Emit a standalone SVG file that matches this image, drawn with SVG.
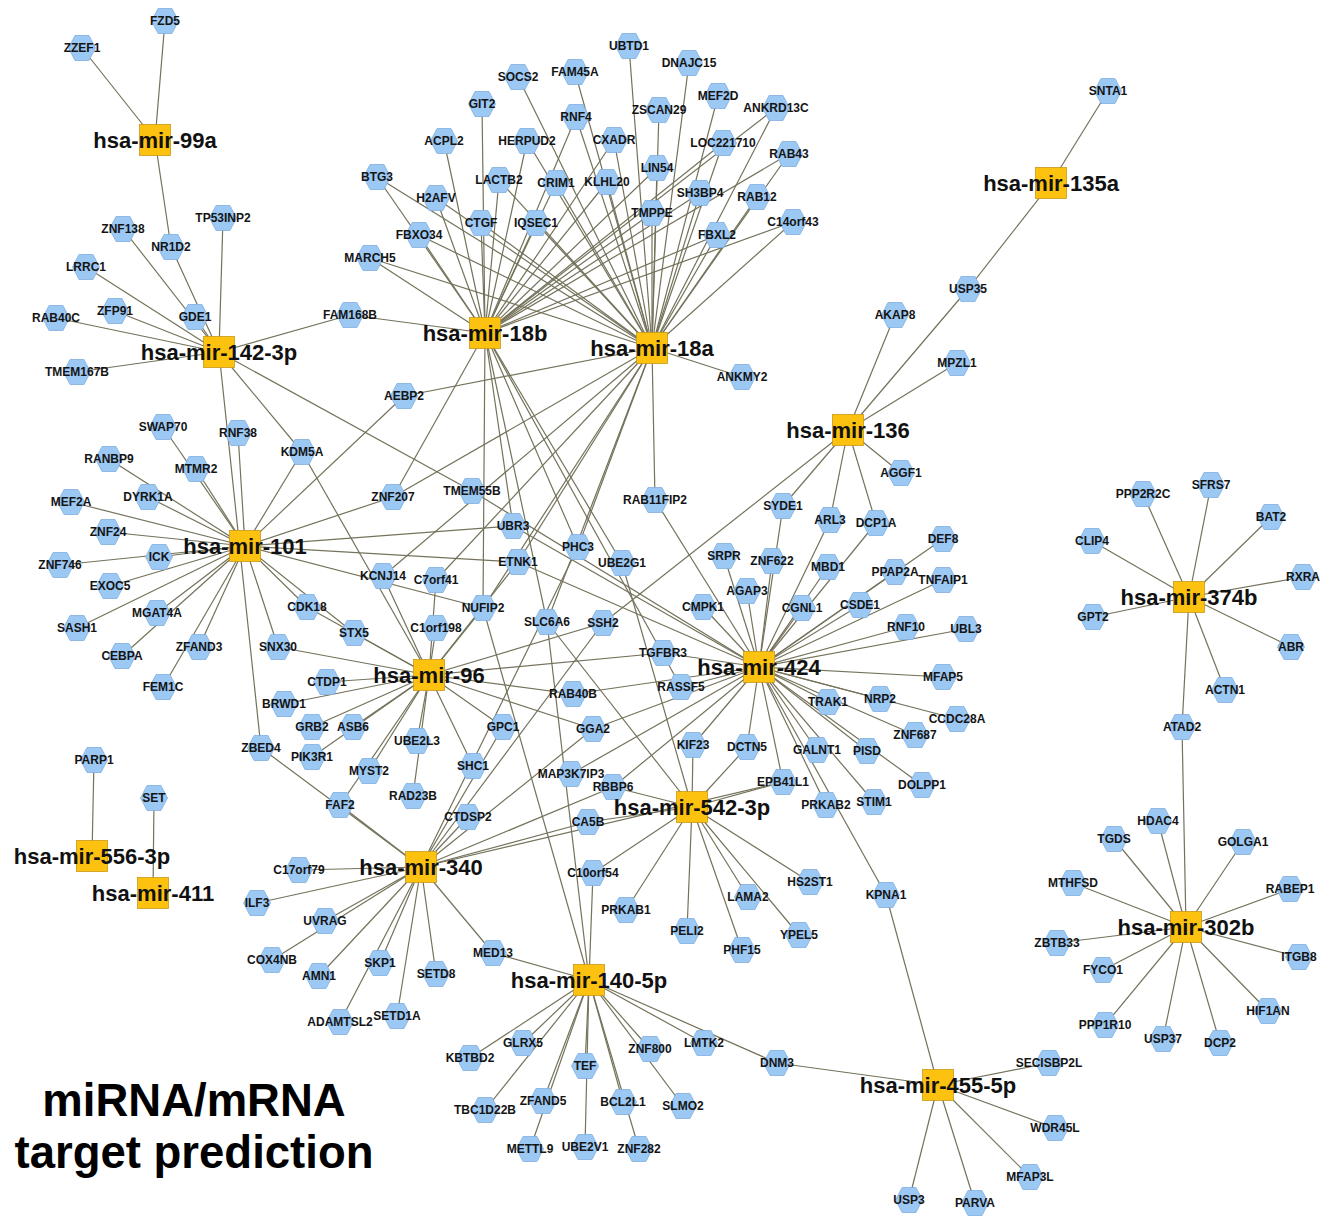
<svg xmlns="http://www.w3.org/2000/svg" xmlns:xlink="http://www.w3.org/1999/xlink" width="1326" height="1216" viewBox="0 0 1326 1216">
<style>
.e line{stroke:#74725a;stroke-width:1.2}
.g use{fill:#9cc8f4;stroke:#80afdf;stroke-width:0.8}
.g text{font:bold 12px "Liberation Sans",Arial,sans-serif;fill:#141414;text-anchor:middle}
.m rect{fill:#fdc10f;stroke:#c99a1a;stroke-width:0.8}
.m text{font:bold 22px "Liberation Sans",Arial,sans-serif;fill:#111;text-anchor:middle}
.t{font:bold 45.5px "Liberation Sans",Arial,sans-serif;fill:#000;text-anchor:middle}
</style>
<defs><polygon id="hex" points="-13.5,0 -7,-12.5 7,-12.5 13.5,0 7,12.5 -7,12.5"/></defs>
<rect width="1326" height="1216" fill="#fff"/>
<g id="connectors" class="e">
<line x1="155" y1="140" x2="82" y2="48"/><line x1="155" y1="140" x2="165" y2="21"/><line x1="155" y1="140" x2="171" y2="247"/>
<line x1="219" y1="352" x2="171" y2="247"/><line x1="219" y1="352" x2="223" y2="218"/><line x1="219" y1="352" x2="123" y2="229"/><line x1="219" y1="352" x2="86" y2="267"/><line x1="219" y1="352" x2="115" y2="311"/><line x1="219" y1="352" x2="195" y2="317"/><line x1="219" y1="352" x2="56" y2="318"/><line x1="219" y1="352" x2="77" y2="372"/><line x1="219" y1="352" x2="350" y2="315"/><line x1="219" y1="352" x2="261" y2="748"/><line x1="219" y1="352" x2="302" y2="452"/><line x1="219" y1="352" x2="472" y2="491"/>
<line x1="1051" y1="183" x2="1108" y2="91"/><line x1="1051" y1="183" x2="968" y2="289"/>
<line x1="848" y1="430" x2="968" y2="289"/><line x1="848" y1="430" x2="895" y2="315"/><line x1="848" y1="430" x2="957" y2="363"/><line x1="848" y1="430" x2="901" y2="473"/><line x1="848" y1="430" x2="783" y2="506"/><line x1="848" y1="430" x2="830" y2="520"/><line x1="848" y1="430" x2="876" y2="523"/><line x1="848" y1="430" x2="603" y2="623"/>
<line x1="485" y1="333" x2="482" y2="104"/><line x1="485" y1="333" x2="444" y2="141"/><line x1="485" y1="333" x2="377" y2="177"/><line x1="485" y1="333" x2="436" y2="198"/><line x1="485" y1="333" x2="419" y2="235"/><line x1="485" y1="333" x2="370" y2="258"/><line x1="485" y1="333" x2="481" y2="223"/><line x1="485" y1="333" x2="499" y2="180"/><line x1="485" y1="333" x2="536" y2="223"/><line x1="485" y1="333" x2="527" y2="141"/><line x1="485" y1="333" x2="556" y2="183"/><line x1="485" y1="333" x2="576" y2="117"/><line x1="485" y1="333" x2="614" y2="140"/><line x1="485" y1="333" x2="607" y2="182"/><line x1="485" y1="333" x2="657" y2="168"/><line x1="485" y1="333" x2="652" y2="213"/><line x1="485" y1="333" x2="776" y2="108"/><line x1="485" y1="333" x2="723" y2="143"/><line x1="485" y1="333" x2="789" y2="154"/><line x1="485" y1="333" x2="700" y2="193"/><line x1="485" y1="333" x2="793" y2="222"/><line x1="485" y1="333" x2="717" y2="235"/><line x1="485" y1="333" x2="350" y2="315"/><line x1="485" y1="333" x2="393" y2="497"/><line x1="485" y1="333" x2="483" y2="608"/><line x1="485" y1="333" x2="513" y2="526"/><line x1="485" y1="333" x2="547" y2="622"/><line x1="485" y1="333" x2="578" y2="547"/><line x1="485" y1="333" x2="622" y2="563"/><line x1="485" y1="333" x2="681" y2="687"/>
<line x1="652" y1="348" x2="629" y2="46"/><line x1="652" y1="348" x2="689" y2="63"/><line x1="652" y1="348" x2="518" y2="77"/><line x1="652" y1="348" x2="575" y2="72"/><line x1="652" y1="348" x2="718" y2="96"/><line x1="652" y1="348" x2="576" y2="117"/><line x1="652" y1="348" x2="659" y2="110"/><line x1="652" y1="348" x2="776" y2="108"/><line x1="652" y1="348" x2="527" y2="141"/><line x1="652" y1="348" x2="614" y2="140"/><line x1="652" y1="348" x2="723" y2="143"/><line x1="652" y1="348" x2="789" y2="154"/><line x1="652" y1="348" x2="377" y2="177"/><line x1="652" y1="348" x2="436" y2="198"/><line x1="652" y1="348" x2="499" y2="180"/><line x1="652" y1="348" x2="556" y2="183"/><line x1="652" y1="348" x2="607" y2="182"/><line x1="652" y1="348" x2="657" y2="168"/><line x1="652" y1="348" x2="700" y2="193"/><line x1="652" y1="348" x2="757" y2="197"/><line x1="652" y1="348" x2="481" y2="223"/><line x1="652" y1="348" x2="536" y2="223"/><line x1="652" y1="348" x2="652" y2="213"/><line x1="652" y1="348" x2="717" y2="235"/><line x1="652" y1="348" x2="793" y2="222"/><line x1="652" y1="348" x2="419" y2="235"/><line x1="652" y1="348" x2="370" y2="258"/><line x1="652" y1="348" x2="742" y2="377"/><line x1="652" y1="348" x2="404" y2="396"/><line x1="652" y1="348" x2="655" y2="500"/><line x1="652" y1="348" x2="393" y2="497"/><line x1="652" y1="348" x2="518" y2="562"/><line x1="652" y1="348" x2="578" y2="547"/><line x1="652" y1="348" x2="547" y2="622"/><line x1="652" y1="348" x2="483" y2="608"/><line x1="652" y1="348" x2="436" y2="580"/><line x1="652" y1="348" x2="383" y2="576"/>
<line x1="245" y1="546" x2="163" y2="427"/><line x1="245" y1="546" x2="196" y2="469"/><line x1="245" y1="546" x2="109" y2="459"/><line x1="245" y1="546" x2="148" y2="497"/><line x1="245" y1="546" x2="71" y2="502"/><line x1="245" y1="546" x2="108" y2="532"/><line x1="245" y1="546" x2="159" y2="557"/><line x1="245" y1="546" x2="60" y2="565"/><line x1="245" y1="546" x2="110" y2="586"/><line x1="245" y1="546" x2="77" y2="628"/><line x1="245" y1="546" x2="157" y2="613"/><line x1="245" y1="546" x2="122" y2="656"/><line x1="245" y1="546" x2="199" y2="647"/><line x1="245" y1="546" x2="163" y2="687"/><line x1="245" y1="546" x2="278" y2="647"/><line x1="245" y1="546" x2="307" y2="607"/><line x1="245" y1="546" x2="238" y2="433"/><line x1="245" y1="546" x2="302" y2="452"/><line x1="245" y1="546" x2="404" y2="396"/><line x1="245" y1="546" x2="393" y2="497"/><line x1="245" y1="546" x2="513" y2="526"/><line x1="245" y1="546" x2="518" y2="562"/><line x1="245" y1="546" x2="483" y2="608"/><line x1="245" y1="546" x2="354" y2="633"/>
<line x1="429" y1="675" x2="302" y2="452"/><line x1="429" y1="675" x2="354" y2="633"/><line x1="429" y1="675" x2="307" y2="607"/><line x1="429" y1="675" x2="278" y2="647"/><line x1="429" y1="675" x2="327" y2="682"/><line x1="429" y1="675" x2="284" y2="704"/><line x1="429" y1="675" x2="312" y2="727"/><line x1="429" y1="675" x2="353" y2="727"/><line x1="429" y1="675" x2="312" y2="757"/><line x1="429" y1="675" x2="369" y2="771"/><line x1="429" y1="675" x2="340" y2="805"/><line x1="429" y1="675" x2="417" y2="741"/><line x1="429" y1="675" x2="413" y2="796"/><line x1="429" y1="675" x2="473" y2="766"/><line x1="429" y1="675" x2="503" y2="727"/><line x1="429" y1="675" x2="593" y2="729"/><line x1="429" y1="675" x2="573" y2="694"/><line x1="429" y1="675" x2="603" y2="623"/><line x1="429" y1="675" x2="483" y2="608"/><line x1="429" y1="675" x2="436" y2="628"/><line x1="429" y1="675" x2="436" y2="580"/><line x1="429" y1="675" x2="383" y2="576"/><line x1="429" y1="675" x2="518" y2="562"/><line x1="429" y1="675" x2="663" y2="653"/>
<line x1="759" y1="667" x2="663" y2="653"/><line x1="759" y1="667" x2="681" y2="687"/><line x1="759" y1="667" x2="703" y2="607"/><line x1="759" y1="667" x2="724" y2="556"/><line x1="759" y1="667" x2="747" y2="591"/><line x1="759" y1="667" x2="772" y2="561"/><line x1="759" y1="667" x2="828" y2="567"/><line x1="759" y1="667" x2="802" y2="608"/><line x1="759" y1="667" x2="860" y2="605"/><line x1="759" y1="667" x2="895" y2="572"/><line x1="759" y1="667" x2="943" y2="539"/><line x1="759" y1="667" x2="943" y2="580"/><line x1="759" y1="667" x2="906" y2="627"/><line x1="759" y1="667" x2="966" y2="629"/><line x1="759" y1="667" x2="943" y2="677"/><line x1="759" y1="667" x2="880" y2="699"/><line x1="759" y1="667" x2="957" y2="719"/><line x1="759" y1="667" x2="828" y2="702"/><line x1="759" y1="667" x2="915" y2="735"/><line x1="759" y1="667" x2="867" y2="751"/><line x1="759" y1="667" x2="922" y2="785"/><line x1="759" y1="667" x2="817" y2="750"/><line x1="759" y1="667" x2="874" y2="802"/><line x1="759" y1="667" x2="826" y2="805"/><line x1="759" y1="667" x2="886" y2="895"/><line x1="759" y1="667" x2="783" y2="782"/><line x1="759" y1="667" x2="747" y2="747"/><line x1="759" y1="667" x2="693" y2="745"/><line x1="759" y1="667" x2="783" y2="506"/><line x1="759" y1="667" x2="830" y2="520"/><line x1="759" y1="667" x2="876" y2="523"/><line x1="759" y1="667" x2="655" y2="500"/><line x1="759" y1="667" x2="472" y2="491"/><line x1="759" y1="667" x2="513" y2="526"/><line x1="759" y1="667" x2="518" y2="562"/><line x1="759" y1="667" x2="573" y2="694"/><line x1="759" y1="667" x2="593" y2="729"/><line x1="759" y1="667" x2="571" y2="774"/><line x1="759" y1="667" x2="613" y2="787"/>
<line x1="692" y1="807" x2="687" y2="931"/><line x1="692" y1="807" x2="742" y2="950"/><line x1="692" y1="807" x2="748" y2="897"/><line x1="692" y1="807" x2="799" y2="935"/><line x1="692" y1="807" x2="810" y2="882"/><line x1="692" y1="807" x2="783" y2="782"/><line x1="692" y1="807" x2="747" y2="747"/><line x1="692" y1="807" x2="693" y2="745"/><line x1="692" y1="807" x2="626" y2="910"/><line x1="692" y1="807" x2="593" y2="873"/><line x1="692" y1="807" x2="613" y2="787"/><line x1="692" y1="807" x2="622" y2="563"/><line x1="692" y1="807" x2="547" y2="622"/><line x1="692" y1="807" x2="588" y2="822"/>
<line x1="421" y1="867" x2="468" y2="817"/><line x1="421" y1="867" x2="340" y2="805"/><line x1="421" y1="867" x2="261" y2="748"/><line x1="421" y1="867" x2="299" y2="870"/><line x1="421" y1="867" x2="257" y2="903"/><line x1="421" y1="867" x2="325" y2="921"/><line x1="421" y1="867" x2="272" y2="960"/><line x1="421" y1="867" x2="319" y2="976"/><line x1="421" y1="867" x2="380" y2="963"/><line x1="421" y1="867" x2="340" y2="1022"/><line x1="421" y1="867" x2="397" y2="1016"/><line x1="421" y1="867" x2="436" y2="974"/><line x1="421" y1="867" x2="493" y2="953"/><line x1="421" y1="867" x2="603" y2="623"/><line x1="421" y1="867" x2="588" y2="822"/><line x1="421" y1="867" x2="613" y2="787"/><line x1="421" y1="867" x2="593" y2="729"/><line x1="421" y1="867" x2="783" y2="782"/><line x1="421" y1="867" x2="578" y2="547"/><line x1="421" y1="867" x2="503" y2="727"/>
<line x1="589" y1="980" x2="493" y2="953"/><line x1="589" y1="980" x2="593" y2="873"/><line x1="589" y1="980" x2="483" y2="608"/><line x1="589" y1="980" x2="547" y2="622"/><line x1="589" y1="980" x2="470" y2="1058"/><line x1="589" y1="980" x2="523" y2="1043"/><line x1="589" y1="980" x2="485" y2="1110"/><line x1="589" y1="980" x2="585" y2="1066"/><line x1="589" y1="980" x2="543" y2="1101"/><line x1="589" y1="980" x2="530" y2="1149"/><line x1="589" y1="980" x2="585" y2="1147"/><line x1="589" y1="980" x2="623" y2="1102"/><line x1="589" y1="980" x2="639" y2="1149"/><line x1="589" y1="980" x2="650" y2="1049"/><line x1="589" y1="980" x2="683" y2="1106"/><line x1="589" y1="980" x2="704" y2="1043"/><line x1="589" y1="980" x2="777" y2="1063"/>
<line x1="938" y1="1085" x2="886" y2="895"/><line x1="938" y1="1085" x2="777" y2="1063"/><line x1="938" y1="1085" x2="1049" y2="1063"/><line x1="938" y1="1085" x2="1055" y2="1128"/><line x1="938" y1="1085" x2="1030" y2="1177"/><line x1="938" y1="1085" x2="909" y2="1200"/><line x1="938" y1="1085" x2="975" y2="1203"/>
<line x1="1189" y1="597" x2="1211" y2="485"/><line x1="1189" y1="597" x2="1143" y2="494"/><line x1="1189" y1="597" x2="1271" y2="517"/><line x1="1189" y1="597" x2="1092" y2="541"/><line x1="1189" y1="597" x2="1303" y2="577"/><line x1="1189" y1="597" x2="1093" y2="617"/><line x1="1189" y1="597" x2="1291" y2="647"/><line x1="1189" y1="597" x2="1225" y2="690"/><line x1="1189" y1="597" x2="1182" y2="727"/>
<line x1="1186" y1="927" x2="1182" y2="727"/><line x1="1186" y1="927" x2="1158" y2="821"/><line x1="1186" y1="927" x2="1114" y2="839"/><line x1="1186" y1="927" x2="1243" y2="842"/><line x1="1186" y1="927" x2="1073" y2="883"/><line x1="1186" y1="927" x2="1290" y2="889"/><line x1="1186" y1="927" x2="1057" y2="943"/><line x1="1186" y1="927" x2="1299" y2="957"/><line x1="1186" y1="927" x2="1103" y2="970"/><line x1="1186" y1="927" x2="1268" y2="1011"/><line x1="1186" y1="927" x2="1105" y2="1025"/><line x1="1186" y1="927" x2="1163" y2="1039"/><line x1="1186" y1="927" x2="1220" y2="1043"/>
<line x1="92" y1="856" x2="94" y2="760"/><line x1="153" y1="893" x2="154" y2="798"/>
</g>
<g id="genes" class="g">
<g id="n_FZD5" transform="translate(165,21)"><use href="#hex"/><text y="4">FZD5</text></g>
<g id="n_ZZEF1" transform="translate(82,48)"><use href="#hex"/><text y="4">ZZEF1</text></g>
<g id="n_TP53INP2" transform="translate(223,218)"><use href="#hex"/><text y="4">TP53INP2</text></g>
<g id="n_ZNF138" transform="translate(123,229)"><use href="#hex"/><text y="4">ZNF138</text></g>
<g id="n_NR1D2" transform="translate(171,247)"><use href="#hex"/><text y="4">NR1D2</text></g>
<g id="n_LRRC1" transform="translate(86,267)"><use href="#hex"/><text y="4">LRRC1</text></g>
<g id="n_ZFP91" transform="translate(115,311)"><use href="#hex"/><text y="4">ZFP91</text></g>
<g id="n_GDE1" transform="translate(195,317)"><use href="#hex"/><text y="4">GDE1</text></g>
<g id="n_RAB40C" transform="translate(56,318)"><use href="#hex"/><text y="4">RAB40C</text></g>
<g id="n_TMEM167B" transform="translate(77,372)"><use href="#hex"/><text y="4">TMEM167B</text></g>
<g id="n_FAM168B" transform="translate(350,315)"><use href="#hex"/><text y="4">FAM168B</text></g>
<g id="n_UBTD1" transform="translate(629,46)"><use href="#hex"/><text y="4">UBTD1</text></g>
<g id="n_SOCS2" transform="translate(518,77)"><use href="#hex"/><text y="4">SOCS2</text></g>
<g id="n_FAM45A" transform="translate(575,72)"><use href="#hex"/><text y="4">FAM45A</text></g>
<g id="n_DNAJC15" transform="translate(689,63)"><use href="#hex"/><text y="4">DNAJC15</text></g>
<g id="n_GIT2" transform="translate(482,104)"><use href="#hex"/><text y="4">GIT2</text></g>
<g id="n_RNF4" transform="translate(576,117)"><use href="#hex"/><text y="4">RNF4</text></g>
<g id="n_ZSCAN29" transform="translate(659,110)"><use href="#hex"/><text y="4">ZSCAN29</text></g>
<g id="n_MEF2D" transform="translate(718,96)"><use href="#hex"/><text y="4">MEF2D</text></g>
<g id="n_ANKRD13C" transform="translate(776,108)"><use href="#hex"/><text y="4">ANKRD13C</text></g>
<g id="n_ACPL2" transform="translate(444,141)"><use href="#hex"/><text y="4">ACPL2</text></g>
<g id="n_HERPUD2" transform="translate(527,141)"><use href="#hex"/><text y="4">HERPUD2</text></g>
<g id="n_CXADR" transform="translate(614,140)"><use href="#hex"/><text y="4">CXADR</text></g>
<g id="n_LOC221710" transform="translate(723,143)"><use href="#hex"/><text y="4">LOC221710</text></g>
<g id="n_RAB43" transform="translate(789,154)"><use href="#hex"/><text y="4">RAB43</text></g>
<g id="n_BTG3" transform="translate(377,177)"><use href="#hex"/><text y="4">BTG3</text></g>
<g id="n_LACTB2" transform="translate(499,180)"><use href="#hex"/><text y="4">LACTB2</text></g>
<g id="n_CRIM1" transform="translate(556,183)"><use href="#hex"/><text y="4">CRIM1</text></g>
<g id="n_KLHL20" transform="translate(607,182)"><use href="#hex"/><text y="4">KLHL20</text></g>
<g id="n_LIN54" transform="translate(657,168)"><use href="#hex"/><text y="4">LIN54</text></g>
<g id="n_SH3BP4" transform="translate(700,193)"><use href="#hex"/><text y="4">SH3BP4</text></g>
<g id="n_RAB12" transform="translate(757,197)"><use href="#hex"/><text y="4">RAB12</text></g>
<g id="n_H2AFV" transform="translate(436,198)"><use href="#hex"/><text y="4">H2AFV</text></g>
<g id="n_CTGF" transform="translate(481,223)"><use href="#hex"/><text y="4">CTGF</text></g>
<g id="n_IQSEC1" transform="translate(536,223)"><use href="#hex"/><text y="4">IQSEC1</text></g>
<g id="n_TMPPE" transform="translate(652,213)"><use href="#hex"/><text y="4">TMPPE</text></g>
<g id="n_FBXL2" transform="translate(717,235)"><use href="#hex"/><text y="4">FBXL2</text></g>
<g id="n_C14orf43" transform="translate(793,222)"><use href="#hex"/><text y="4">C14orf43</text></g>
<g id="n_FBXO34" transform="translate(419,235)"><use href="#hex"/><text y="4">FBXO34</text></g>
<g id="n_MARCH5" transform="translate(370,258)"><use href="#hex"/><text y="4">MARCH5</text></g>
<g id="n_AEBP2" transform="translate(404,396)"><use href="#hex"/><text y="4">AEBP2</text></g>
<g id="n_ANKMY2" transform="translate(742,377)"><use href="#hex"/><text y="4">ANKMY2</text></g>
<g id="n_SNTA1" transform="translate(1108,91)"><use href="#hex"/><text y="4">SNTA1</text></g>
<g id="n_USP35" transform="translate(968,289)"><use href="#hex"/><text y="4">USP35</text></g>
<g id="n_AKAP8" transform="translate(895,315)"><use href="#hex"/><text y="4">AKAP8</text></g>
<g id="n_MPZL1" transform="translate(957,363)"><use href="#hex"/><text y="4">MPZL1</text></g>
<g id="n_SWAP70" transform="translate(163,427)"><use href="#hex"/><text y="4">SWAP70</text></g>
<g id="n_RNF38" transform="translate(238,433)"><use href="#hex"/><text y="4">RNF38</text></g>
<g id="n_KDM5A" transform="translate(302,452)"><use href="#hex"/><text y="4">KDM5A</text></g>
<g id="n_RANBP9" transform="translate(109,459)"><use href="#hex"/><text y="4">RANBP9</text></g>
<g id="n_MTMR2" transform="translate(196,469)"><use href="#hex"/><text y="4">MTMR2</text></g>
<g id="n_DYRK1A" transform="translate(148,497)"><use href="#hex"/><text y="4">DYRK1A</text></g>
<g id="n_MEF2A" transform="translate(71,502)"><use href="#hex"/><text y="4">MEF2A</text></g>
<g id="n_ZNF24" transform="translate(108,532)"><use href="#hex"/><text y="4">ZNF24</text></g>
<g id="n_ICK" transform="translate(159,557)"><use href="#hex"/><text y="4">ICK</text></g>
<g id="n_ZNF746" transform="translate(60,565)"><use href="#hex"/><text y="4">ZNF746</text></g>
<g id="n_EXOC5" transform="translate(110,586)"><use href="#hex"/><text y="4">EXOC5</text></g>
<g id="n_CDK18" transform="translate(307,607)"><use href="#hex"/><text y="4">CDK18</text></g>
<g id="n_MGAT4A" transform="translate(157,613)"><use href="#hex"/><text y="4">MGAT4A</text></g>
<g id="n_SASH1" transform="translate(77,628)"><use href="#hex"/><text y="4">SASH1</text></g>
<g id="n_SNX30" transform="translate(278,647)"><use href="#hex"/><text y="4">SNX30</text></g>
<g id="n_ZFAND3" transform="translate(199,647)"><use href="#hex"/><text y="4">ZFAND3</text></g>
<g id="n_CEBPA" transform="translate(122,656)"><use href="#hex"/><text y="4">CEBPA</text></g>
<g id="n_CTDP1" transform="translate(327,682)"><use href="#hex"/><text y="4">CTDP1</text></g>
<g id="n_FEM1C" transform="translate(163,687)"><use href="#hex"/><text y="4">FEM1C</text></g>
<g id="n_BRWD1" transform="translate(284,704)"><use href="#hex"/><text y="4">BRWD1</text></g>
<g id="n_GRB2" transform="translate(312,727)"><use href="#hex"/><text y="4">GRB2</text></g>
<g id="n_ZBED4" transform="translate(261,748)"><use href="#hex"/><text y="4">ZBED4</text></g>
<g id="n_PIK3R1" transform="translate(312,757)"><use href="#hex"/><text y="4">PIK3R1</text></g>
<g id="n_PARP1" transform="translate(94,760)"><use href="#hex"/><text y="4">PARP1</text></g>
<g id="n_SET" transform="translate(154,798)"><use href="#hex"/><text y="4">SET</text></g>
<g id="n_FAF2" transform="translate(340,805)"><use href="#hex"/><text y="4">FAF2</text></g>
<g id="n_ZNF207" transform="translate(393,497)"><use href="#hex"/><text y="4">ZNF207</text></g>
<g id="n_TMEM55B" transform="translate(472,491)"><use href="#hex"/><text y="4">TMEM55B</text></g>
<g id="n_RAB11FIP2" transform="translate(655,500)"><use href="#hex"/><text y="4">RAB11FIP2</text></g>
<g id="n_UBR3" transform="translate(513,526)"><use href="#hex"/><text y="4">UBR3</text></g>
<g id="n_PHC3" transform="translate(578,547)"><use href="#hex"/><text y="4">PHC3</text></g>
<g id="n_ETNK1" transform="translate(518,562)"><use href="#hex"/><text y="4">ETNK1</text></g>
<g id="n_UBE2G1" transform="translate(622,563)"><use href="#hex"/><text y="4">UBE2G1</text></g>
<g id="n_KCNJ14" transform="translate(383,576)"><use href="#hex"/><text y="4">KCNJ14</text></g>
<g id="n_C7orf41" transform="translate(436,580)"><use href="#hex"/><text y="4">C7orf41</text></g>
<g id="n_NUFIP2" transform="translate(483,608)"><use href="#hex"/><text y="4">NUFIP2</text></g>
<g id="n_SLC6A6" transform="translate(547,622)"><use href="#hex"/><text y="4">SLC6A6</text></g>
<g id="n_SSH2" transform="translate(603,623)"><use href="#hex"/><text y="4">SSH2</text></g>
<g id="n_C1orf198" transform="translate(436,628)"><use href="#hex"/><text y="4">C1orf198</text></g>
<g id="n_STX5" transform="translate(354,633)"><use href="#hex"/><text y="4">STX5</text></g>
<g id="n_TGFBR3" transform="translate(663,653)"><use href="#hex"/><text y="4">TGFBR3</text></g>
<g id="n_RAB40B" transform="translate(573,694)"><use href="#hex"/><text y="4">RAB40B</text></g>
<g id="n_RASSF5" transform="translate(681,687)"><use href="#hex"/><text y="4">RASSF5</text></g>
<g id="n_ASB6" transform="translate(353,727)"><use href="#hex"/><text y="4">ASB6</text></g>
<g id="n_GPC1" transform="translate(503,727)"><use href="#hex"/><text y="4">GPC1</text></g>
<g id="n_GGA2" transform="translate(593,729)"><use href="#hex"/><text y="4">GGA2</text></g>
<g id="n_UBE2L3" transform="translate(417,741)"><use href="#hex"/><text y="4">UBE2L3</text></g>
<g id="n_SHC1" transform="translate(473,766)"><use href="#hex"/><text y="4">SHC1</text></g>
<g id="n_MYST2" transform="translate(369,771)"><use href="#hex"/><text y="4">MYST2</text></g>
<g id="n_MAP3K7IP3" transform="translate(571,774)"><use href="#hex"/><text y="4">MAP3K7IP3</text></g>
<g id="n_RBBP6" transform="translate(613,787)"><use href="#hex"/><text y="4">RBBP6</text></g>
<g id="n_RAD23B" transform="translate(413,796)"><use href="#hex"/><text y="4">RAD23B</text></g>
<g id="n_AGGF1" transform="translate(901,473)"><use href="#hex"/><text y="4">AGGF1</text></g>
<g id="n_SYDE1" transform="translate(783,506)"><use href="#hex"/><text y="4">SYDE1</text></g>
<g id="n_ARL3" transform="translate(830,520)"><use href="#hex"/><text y="4">ARL3</text></g>
<g id="n_DCP1A" transform="translate(876,523)"><use href="#hex"/><text y="4">DCP1A</text></g>
<g id="n_DEF8" transform="translate(943,539)"><use href="#hex"/><text y="4">DEF8</text></g>
<g id="n_SRPR" transform="translate(724,556)"><use href="#hex"/><text y="4">SRPR</text></g>
<g id="n_ZNF622" transform="translate(772,561)"><use href="#hex"/><text y="4">ZNF622</text></g>
<g id="n_MBD1" transform="translate(828,567)"><use href="#hex"/><text y="4">MBD1</text></g>
<g id="n_PPAP2A" transform="translate(895,572)"><use href="#hex"/><text y="4">PPAP2A</text></g>
<g id="n_TNFAIP1" transform="translate(943,580)"><use href="#hex"/><text y="4">TNFAIP1</text></g>
<g id="n_AGAP3" transform="translate(747,591)"><use href="#hex"/><text y="4">AGAP3</text></g>
<g id="n_CMPK1" transform="translate(703,607)"><use href="#hex"/><text y="4">CMPK1</text></g>
<g id="n_CGNL1" transform="translate(802,608)"><use href="#hex"/><text y="4">CGNL1</text></g>
<g id="n_CSDE1" transform="translate(860,605)"><use href="#hex"/><text y="4">CSDE1</text></g>
<g id="n_RNF10" transform="translate(906,627)"><use href="#hex"/><text y="4">RNF10</text></g>
<g id="n_UBL3" transform="translate(966,629)"><use href="#hex"/><text y="4">UBL3</text></g>
<g id="n_MFAP5" transform="translate(943,677)"><use href="#hex"/><text y="4">MFAP5</text></g>
<g id="n_TRAK1" transform="translate(828,702)"><use href="#hex"/><text y="4">TRAK1</text></g>
<g id="n_NRP2" transform="translate(880,699)"><use href="#hex"/><text y="4">NRP2</text></g>
<g id="n_CCDC28A" transform="translate(957,719)"><use href="#hex"/><text y="4">CCDC28A</text></g>
<g id="n_ZNF687" transform="translate(915,735)"><use href="#hex"/><text y="4">ZNF687</text></g>
<g id="n_KIF23" transform="translate(693,745)"><use href="#hex"/><text y="4">KIF23</text></g>
<g id="n_DCTN5" transform="translate(747,747)"><use href="#hex"/><text y="4">DCTN5</text></g>
<g id="n_GALNT1" transform="translate(817,750)"><use href="#hex"/><text y="4">GALNT1</text></g>
<g id="n_PISD" transform="translate(867,751)"><use href="#hex"/><text y="4">PISD</text></g>
<g id="n_EPB41L1" transform="translate(783,782)"><use href="#hex"/><text y="4">EPB41L1</text></g>
<g id="n_DOLPP1" transform="translate(922,785)"><use href="#hex"/><text y="4">DOLPP1</text></g>
<g id="n_PRKAB2" transform="translate(826,805)"><use href="#hex"/><text y="4">PRKAB2</text></g>
<g id="n_STIM1" transform="translate(874,802)"><use href="#hex"/><text y="4">STIM1</text></g>
<g id="n_SFRS7" transform="translate(1211,485)"><use href="#hex"/><text y="4">SFRS7</text></g>
<g id="n_PPP2R2C" transform="translate(1143,494)"><use href="#hex"/><text y="4">PPP2R2C</text></g>
<g id="n_BAT2" transform="translate(1271,517)"><use href="#hex"/><text y="4">BAT2</text></g>
<g id="n_CLIP4" transform="translate(1092,541)"><use href="#hex"/><text y="4">CLIP4</text></g>
<g id="n_RXRA" transform="translate(1303,577)"><use href="#hex"/><text y="4">RXRA</text></g>
<g id="n_GPT2" transform="translate(1093,617)"><use href="#hex"/><text y="4">GPT2</text></g>
<g id="n_ABR" transform="translate(1291,647)"><use href="#hex"/><text y="4">ABR</text></g>
<g id="n_ACTN1" transform="translate(1225,690)"><use href="#hex"/><text y="4">ACTN1</text></g>
<g id="n_ATAD2" transform="translate(1182,727)"><use href="#hex"/><text y="4">ATAD2</text></g>
<g id="n_C17orf79" transform="translate(299,870)"><use href="#hex"/><text y="4">C17orf79</text></g>
<g id="n_ILF3" transform="translate(257,903)"><use href="#hex"/><text y="4">ILF3</text></g>
<g id="n_UVRAG" transform="translate(325,921)"><use href="#hex"/><text y="4">UVRAG</text></g>
<g id="n_COX4NB" transform="translate(272,960)"><use href="#hex"/><text y="4">COX4NB</text></g>
<g id="n_AMN1" transform="translate(319,976)"><use href="#hex"/><text y="4">AMN1</text></g>
<g id="n_ADAMTSL2" transform="translate(340,1022)"><use href="#hex"/><text y="4">ADAMTSL2</text></g>
<g id="n_CTDSP2" transform="translate(468,817)"><use href="#hex"/><text y="4">CTDSP2</text></g>
<g id="n_CA5B" transform="translate(588,822)"><use href="#hex"/><text y="4">CA5B</text></g>
<g id="n_C10orf54" transform="translate(593,873)"><use href="#hex"/><text y="4">C10orf54</text></g>
<g id="n_PRKAB1" transform="translate(626,910)"><use href="#hex"/><text y="4">PRKAB1</text></g>
<g id="n_MED13" transform="translate(493,953)"><use href="#hex"/><text y="4">MED13</text></g>
<g id="n_SKP1" transform="translate(380,963)"><use href="#hex"/><text y="4">SKP1</text></g>
<g id="n_SETD8" transform="translate(436,974)"><use href="#hex"/><text y="4">SETD8</text></g>
<g id="n_SETD1A" transform="translate(397,1016)"><use href="#hex"/><text y="4">SETD1A</text></g>
<g id="n_GLRX5" transform="translate(523,1043)"><use href="#hex"/><text y="4">GLRX5</text></g>
<g id="n_KBTBD2" transform="translate(470,1058)"><use href="#hex"/><text y="4">KBTBD2</text></g>
<g id="n_TEF" transform="translate(585,1066)"><use href="#hex"/><text y="4">TEF</text></g>
<g id="n_ZNF800" transform="translate(650,1049)"><use href="#hex"/><text y="4">ZNF800</text></g>
<g id="n_ZFAND5" transform="translate(543,1101)"><use href="#hex"/><text y="4">ZFAND5</text></g>
<g id="n_TBC1D22B" transform="translate(485,1110)"><use href="#hex"/><text y="4">TBC1D22B</text></g>
<g id="n_BCL2L1" transform="translate(623,1102)"><use href="#hex"/><text y="4">BCL2L1</text></g>
<g id="n_METTL9" transform="translate(530,1149)"><use href="#hex"/><text y="4">METTL9</text></g>
<g id="n_UBE2V1" transform="translate(585,1147)"><use href="#hex"/><text y="4">UBE2V1</text></g>
<g id="n_ZNF282" transform="translate(639,1149)"><use href="#hex"/><text y="4">ZNF282</text></g>
<g id="n_HS2ST1" transform="translate(810,882)"><use href="#hex"/><text y="4">HS2ST1</text></g>
<g id="n_KPNA1" transform="translate(886,895)"><use href="#hex"/><text y="4">KPNA1</text></g>
<g id="n_LAMA2" transform="translate(748,897)"><use href="#hex"/><text y="4">LAMA2</text></g>
<g id="n_PELI2" transform="translate(687,931)"><use href="#hex"/><text y="4">PELI2</text></g>
<g id="n_YPEL5" transform="translate(799,935)"><use href="#hex"/><text y="4">YPEL5</text></g>
<g id="n_PHF15" transform="translate(742,950)"><use href="#hex"/><text y="4">PHF15</text></g>
<g id="n_LMTK2" transform="translate(704,1043)"><use href="#hex"/><text y="4">LMTK2</text></g>
<g id="n_DNM3" transform="translate(777,1063)"><use href="#hex"/><text y="4">DNM3</text></g>
<g id="n_SLMO2" transform="translate(683,1106)"><use href="#hex"/><text y="4">SLMO2</text></g>
<g id="n_USP3" transform="translate(909,1200)"><use href="#hex"/><text y="4">USP3</text></g>
<g id="n_PARVA" transform="translate(975,1203)"><use href="#hex"/><text y="4">PARVA</text></g>
<g id="n_HDAC4" transform="translate(1158,821)"><use href="#hex"/><text y="4">HDAC4</text></g>
<g id="n_TGDS" transform="translate(1114,839)"><use href="#hex"/><text y="4">TGDS</text></g>
<g id="n_GOLGA1" transform="translate(1243,842)"><use href="#hex"/><text y="4">GOLGA1</text></g>
<g id="n_MTHFSD" transform="translate(1073,883)"><use href="#hex"/><text y="4">MTHFSD</text></g>
<g id="n_RABEP1" transform="translate(1290,889)"><use href="#hex"/><text y="4">RABEP1</text></g>
<g id="n_ZBTB33" transform="translate(1057,943)"><use href="#hex"/><text y="4">ZBTB33</text></g>
<g id="n_ITGB8" transform="translate(1299,957)"><use href="#hex"/><text y="4">ITGB8</text></g>
<g id="n_FYCO1" transform="translate(1103,970)"><use href="#hex"/><text y="4">FYCO1</text></g>
<g id="n_HIF1AN" transform="translate(1268,1011)"><use href="#hex"/><text y="4">HIF1AN</text></g>
<g id="n_PPP1R10" transform="translate(1105,1025)"><use href="#hex"/><text y="4">PPP1R10</text></g>
<g id="n_USP37" transform="translate(1163,1039)"><use href="#hex"/><text y="4">USP37</text></g>
<g id="n_DCP2" transform="translate(1220,1043)"><use href="#hex"/><text y="4">DCP2</text></g>
<g id="n_SECISBP2L" transform="translate(1049,1063)"><use href="#hex"/><text y="4">SECISBP2L</text></g>
<g id="n_WDR45L" transform="translate(1055,1128)"><use href="#hex"/><text y="4">WDR45L</text></g>
<g id="n_MFAP3L" transform="translate(1030,1177)"><use href="#hex"/><text y="4">MFAP3L</text></g>
</g>
<g id="mirnas" class="m">
<g id="m_99a" transform="translate(155,140)"><rect x="-15.5" y="-15.5" width="31" height="31"/><text y="7.5">hsa-mir-99a</text></g>
<g id="m_142" transform="translate(219,352)"><rect x="-15.5" y="-15.5" width="31" height="31"/><text y="7.5">hsa-mir-142-3p</text></g>
<g id="m_18b" transform="translate(485,333)"><rect x="-15.5" y="-15.5" width="31" height="31"/><text y="7.5">hsa-mir-18b</text></g>
<g id="m_18a" transform="translate(652,348)"><rect x="-15.5" y="-15.5" width="31" height="31"/><text y="7.5">hsa-mir-18a</text></g>
<g id="m_135a" transform="translate(1051,183)"><rect x="-15.5" y="-15.5" width="31" height="31"/><text y="7.5">hsa-mir-135a</text></g>
<g id="m_136" transform="translate(848,430)"><rect x="-15.5" y="-15.5" width="31" height="31"/><text y="7.5">hsa-mir-136</text></g>
<g id="m_101" transform="translate(245,546)"><rect x="-15.5" y="-15.5" width="31" height="31"/><text y="7.5">hsa-mir-101</text></g>
<g id="m_96" transform="translate(429,675)"><rect x="-15.5" y="-15.5" width="31" height="31"/><text y="7.5">hsa-mir-96</text></g>
<g id="m_424" transform="translate(759,667)"><rect x="-15.5" y="-15.5" width="31" height="31"/><text y="7.5">hsa-mir-424</text></g>
<g id="m_374b" transform="translate(1189,597)"><rect x="-15.5" y="-15.5" width="31" height="31"/><text y="7.5">hsa-mir-374b</text></g>
<g id="m_542" transform="translate(692,807)"><rect x="-15.5" y="-15.5" width="31" height="31"/><text y="7.5">hsa-mir-542-3p</text></g>
<g id="m_340" transform="translate(421,867)"><rect x="-15.5" y="-15.5" width="31" height="31"/><text y="7.5">hsa-mir-340</text></g>
<g id="m_140" transform="translate(589,980)"><rect x="-15.5" y="-15.5" width="31" height="31"/><text y="7.5">hsa-mir-140-5p</text></g>
<g id="m_455" transform="translate(938,1085)"><rect x="-15.5" y="-15.5" width="31" height="31"/><text y="7.5">hsa-mir-455-5p</text></g>
<g id="m_302b" transform="translate(1186,927)"><rect x="-15.5" y="-15.5" width="31" height="31"/><text y="7.5">hsa-mir-302b</text></g>
<g id="m_556" transform="translate(92,856)"><rect x="-15.5" y="-15.5" width="31" height="31"/><text y="7.5">hsa-mir-556-3p</text></g>
<g id="m_411" transform="translate(153,893)"><rect x="-15.5" y="-15.5" width="31" height="31"/><text y="7.5">hsa-mir-411</text></g>
</g>
<g id="title"><text class="t" x="194" y="1116">miRNA/mRNA</text><text class="t" x="194" y="1168">target prediction</text></g>
</svg>
